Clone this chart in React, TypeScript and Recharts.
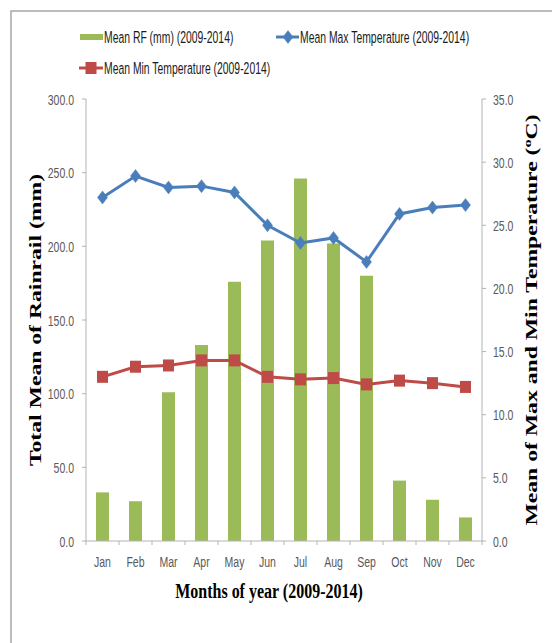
import React from 'react';
import { ComposedChart, Bar, Line, XAxis, YAxis } from 'recharts';

const months = ['Jan', 'Feb', 'Mar', 'Apr', 'May', 'Jun', 'Jul', 'Aug', 'Sep', 'Oct', 'Nov', 'Dec'];
const rainfall = [33, 27, 101, 133, 176, 204, 246, 202, 180, 41, 28, 16];
const maxTemp = [27.2, 28.9, 28.0, 28.1, 27.6, 25.0, 23.6, 24.0, 22.1, 25.9, 26.4, 26.6];
const minTemp = [13.0, 13.8, 13.9, 14.3, 14.3, 13.0, 12.8, 12.9, 12.4, 12.7, 12.5, 12.2];
const rfTicks = [0, 50, 100, 150, 200, 250, 300];
const tempTicks = [0, 5, 10, 15, 20, 25, 30, 35];
const seriesNames = ['Mean RF (mm) (2009-2014)', 'Mean Max Temperature (2009-2014)', 'Mean Min Temperature (2009-2014)'];
const xTitle = 'Months of year (2009-2014)';
const leftTitle = 'Total Mean of Rainrail (mm)';
const rightTitleMain = 'Mean of Max and Min Temperature (';
const rightTitleSup = 'o';
const rightTitleEnd = 'C)';

const GREEN = '#9bbb59';
const BLUE = '#4a7ebb';
const RED = '#be4b48';
const AXIS = '#b3b3b3';
const TICK_TEXT = '#595959';
const SANS = '"Liberation Sans", Arial, sans-serif';
const SERIF = '"Liberation Serif", "Times New Roman", serif';

const data = months.map((m, i) => ({ month: m, rf: rainfall[i], max: maxTemp[i], min: minTemp[i] }));

const W = 552;
const H = 643;
const PLOT_L = 86;
const PLOT_R = 482;
const PLOT_T = 99;
const PLOT_B = 541;
const HALF_BAND = (PLOT_R - PLOT_L) / months.length / 2;

const stretchY = (y: number, s: number) => `translate(0 ${y}) scale(1 ${s}) translate(0 ${-y})`;

const Diamond = (props: any) => {
  const { cx, cy, index } = props;
  if (cx == null || cy == null) return null;
  return <path key={`d${index}`} d={`M${cx},${cy - 6.5}L${cx + 5},${cy}L${cx},${cy + 6.5}L${cx - 5},${cy}Z`} fill={BLUE} stroke={BLUE} strokeWidth={0.5} />;
};
const Square = (props: any) => {
  const { cx, cy, index } = props;
  if (cx == null || cy == null) return null;
  return <rect key={`s${index}`} x={cx - 5.5} y={cy - 6} width={11} height={12} fill={RED} />;
};

const MonthTick = (props: any) => {
  const { x, y, payload, index } = props;
  const last = index === months.length - 1;
  const ty = y + 26;
  return (
    <g>
      <line x1={x - HALF_BAND} y1={y} x2={x - HALF_BAND} y2={y + 4} stroke={AXIS} />
      {last && <line x1={x + HALF_BAND} y1={y} x2={x + HALF_BAND} y2={y + 4} stroke={AXIS} />}
      <text x={x} y={ty} textAnchor="middle" fontSize={10.5} fill={TICK_TEXT} fontFamily={SANS}
        transform={stretchY(ty, 1.4)}>{payload.value}</text>
    </g>
  );
};

const LeftTick = (props: any) => {
  const { x, y, payload } = props;
  return (
    <text x={x} y={y + 4} textAnchor="end" fontSize={10.5} fill={TICK_TEXT} fontFamily={SANS}
      transform={stretchY(y, 1.4)}>{Number(payload.value).toFixed(1)}</text>
  );
};
const RightTick = (props: any) => {
  const { x, y, payload } = props;
  return (
    <text x={x} y={y + 4} textAnchor="start" fontSize={10.5} fill={TICK_TEXT} fontFamily={SANS}
      transform={stretchY(y, 1.4)}>{Number(payload.value).toFixed(1)}</text>
  );
};

export default function App() {
  return (
    <div style={{ position: 'absolute', left: 0, top: 0, width: W, height: H, background: '#fff' }}>
      <ComposedChart width={W} height={H} data={data}
        margin={{ top: PLOT_T, right: W - PLOT_R - 60, bottom: H - PLOT_B - 30, left: PLOT_L - 60 }}>
        <XAxis dataKey="month" interval={0} height={30} tickSize={0} tickMargin={0} tickLine={false}
          axisLine={{ stroke: AXIS }} tick={<MonthTick />} />
        <YAxis yAxisId="rf" width={60} domain={[0, 300]} ticks={rfTicks} allowDataOverflow
          tickSize={4} tickMargin={8} tickLine={{ stroke: AXIS }} axisLine={{ stroke: AXIS }} tick={<LeftTick />} />
        <YAxis yAxisId="temp" orientation="right" width={60} domain={[0, 35]} ticks={tempTicks} allowDataOverflow
          tickSize={4} tickMargin={7} tickLine={{ stroke: AXIS }} axisLine={{ stroke: AXIS }} tick={<RightTick />} />
        <Bar yAxisId="rf" dataKey="rf" name={seriesNames[0]} fill={GREEN} barSize={13} isAnimationActive={false} />
        <Line yAxisId="temp" type="linear" dataKey="max" name={seriesNames[1]} stroke={BLUE} strokeWidth={3}
          dot={Diamond} activeDot={false} isAnimationActive={false} />
        <Line yAxisId="temp" type="linear" dataKey="min" name={seriesNames[2]} stroke={RED} strokeWidth={3}
          dot={Square} activeDot={false} isAnimationActive={false} />
      </ComposedChart>
      <svg width={W} height={H} style={{ position: 'absolute', left: 0, top: 0, pointerEvents: 'none' }}>
        <path d={`M11,${H}L11,11L${W},11`} fill="none" stroke="#a6a6a6" strokeWidth={1.5} />
        {/* legend */}
        <rect x={80} y={34} width={23} height={6} fill={GREEN} />
        <text x={104} y={41} fontSize={10.4} fill="#1a1a1a" fontFamily={SANS}
          transform={stretchY(37, 1.5)}>{seriesNames[0]}</text>
        <line x1={276} y1={37} x2={299} y2={37} stroke={BLUE} strokeWidth={3} />
        <Diamond cx={288} cy={37} index={100} />
        <text x={300} y={41} fontSize={10.4} fill="#1a1a1a" fontFamily={SANS}
          transform={stretchY(37, 1.5)}>{seriesNames[1]}</text>
        <line x1={79} y1={68} x2={103} y2={68} stroke={RED} strokeWidth={3} />
        <Square cx={91} cy={68} index={101} />
        <text x={104} y={72} fontSize={10.4} fill="#1a1a1a" fontFamily={SANS}
          transform={stretchY(68, 1.5)}>{seriesNames[2]}</text>
        {/* axis titles */}
        <text x={0} y={0} textAnchor="middle" fontSize={16} fontWeight="bold" fontFamily={SERIF} fill="#000"
          transform="translate(41 320) rotate(-90) scale(1.48 1)">{leftTitle}</text>
        <text x={0} y={0} textAnchor="middle" fontSize={16} fontWeight="bold" fontFamily={SERIF} fill="#000"
          transform="translate(537 320) rotate(-90) scale(1.48 1)">
          {rightTitleMain}<tspan fontSize={11} dy={-6}>{rightTitleSup}</tspan><tspan dy={6}>{rightTitleEnd}</tspan>
        </text>
        <text x={0} y={0} textAnchor="middle" fontSize={16} fontWeight="bold" fontFamily={SERIF} fill="#000"
          transform="translate(269 598) scale(1 1.35)">{xTitle}</text>
      </svg>
    </div>
  );
}
